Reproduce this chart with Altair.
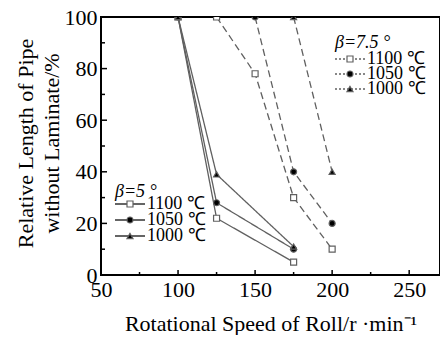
import altair as alt
import pandas as pd

# ---- data ----
speed_b5 = [100, 125, 175]
b5_1100 = [100, 22, 5]
b5_1050 = [100, 28, 10]
b5_1000 = [100, 39, 11]

speed_b75_1100 = [125, 150, 175, 200]
b75_1100 = [100, 78, 30, 10]
speed_b75_1050 = [150, 175, 200]
b75_1050 = [100, 40, 20]
speed_b75_1000 = [175, 200]
b75_1000 = [100, 40]

x_major = [50, 100, 150, 200, 250]
x_minor = [75, 125, 175, 225]
y_major = [0, 20, 40, 60, 80, 100]
y_minor = [10, 30, 50, 70, 90]

rows = []
def add(beta, temp, xs, ys):
    for x, y in zip(xs, ys):
        rows.append({"beta": beta, "temp": temp, "series": f"{beta}-{temp}", "speed": x, "len": y})

add("5", "1100", speed_b5, b5_1100)
add("5", "1050", speed_b5, b5_1050)
add("5", "1000", speed_b5, b5_1000)
add("7.5", "1100", speed_b75_1100, b75_1100)
add("7.5", "1050", speed_b75_1050, b75_1050)
add("7.5", "1000", speed_b75_1000, b75_1000)
df = pd.DataFrame(rows)

W, H = 339, 258
FONT = "Liberation Serif"
GRAY = "#606060"

xs = alt.Scale(domain=[50, 270], nice=False, zero=False)
ys = alt.Scale(domain=[0, 100], nice=False)

temps = ["1100", "1050", "1000"]
shape_scale = alt.Scale(domain=temps, range=["square", "circle", "triangle-up"])
fill_scale = alt.Scale(domain=temps, range=["white", "black", "black"])
dash_scale = alt.Scale(domain=["5", "7.5"], range=[[1, 0], [7, 4]])

base = alt.Chart(df)

lines = base.mark_line(color=GRAY, strokeWidth=1.3).encode(
    x=alt.X("speed:Q", scale=xs,
            axis=alt.Axis(values=x_major, ticks=False, domain=False, grid=False,
                          labelFont=FONT, labelFontSize=22, labelColor="black",
                          labelPadding=4, labelFlush=False,
                          title="Rotational Speed of Roll/r ·min⁻¹",
                          titleFont=FONT, titleFontSize=22, titleFontWeight="normal",
                          titleColor="black", titlePadding=13)),
    y=alt.Y("len:Q", scale=ys,
            axis=alt.Axis(values=y_major, ticks=False, domain=False, grid=False,
                          labelFont=FONT, labelFontSize=22, labelColor="black",
                          labelPadding=4, labelFlush=False,
                          title=["Relative Length of Pipe", "without Laminate/%"],
                          titleFont=FONT, titleFontSize=22, titleFontWeight="normal",
                          titleColor="black", titleLineHeight=26,
                          titleX=-64, titleY=126)),
    detail="series:N",
    strokeDash=alt.StrokeDash("beta:N", scale=dash_scale, legend=None),
)

points = base.mark_point(size=36, filled=False, strokeWidth=1.2, opacity=1, clip=True).encode(
    x=alt.X("speed:Q", scale=xs),
    y=alt.Y("len:Q", scale=ys),
    shape=alt.Shape("temp:N", scale=shape_scale, legend=None),
    fill=alt.Fill("temp:N", scale=fill_scale, legend=None),
    stroke=alt.value(GRAY),
)

# inward ticks
xt_major = alt.Chart(pd.DataFrame({"v": x_major})).mark_rule(color="black", strokeWidth=1.5).encode(
    x=alt.X("v:Q", scale=xs), y=alt.value(H), y2=alt.value(H - 5))
xt_minor = alt.Chart(pd.DataFrame({"v": x_minor})).mark_rule(color="black", strokeWidth=1.5).encode(
    x=alt.X("v:Q", scale=xs), y=alt.value(H), y2=alt.value(H - 3))
yt_major = alt.Chart(pd.DataFrame({"v": y_major})).mark_rule(color="black", strokeWidth=1.5).encode(
    y=alt.Y("v:Q", scale=ys), x=alt.value(0), x2=alt.value(6))
yt_minor = alt.Chart(pd.DataFrame({"v": y_minor})).mark_rule(color="black", strokeWidth=1.5).encode(
    y=alt.Y("v:Q", scale=ys), x=alt.value(0), x2=alt.value(4))

# manual legends
legend_layers = []
def legend(x0, y_title, y_items, dash, title, line_color):
    layers = []
    layers.append(alt.Chart(pd.DataFrame({"t": [title]})).mark_text(
        font=FONT, fontSize=18, fontStyle="italic", align="left", baseline="middle", color="black"
    ).encode(text="t:N", x=alt.value(x0), y=alt.value(y_title)))
    for t, yy in zip(temps, y_items):
        layers.append(alt.Chart(pd.DataFrame({"temp": [t]})).mark_rule(
            color=line_color, strokeWidth=1.3, strokeDash=dash
        ).encode(x=alt.value(x0), x2=alt.value(x0 + 30), y=alt.value(yy)))
        layers.append(alt.Chart(pd.DataFrame({"temp": [t]})).mark_point(
            size=36, filled=False, strokeWidth=1.2, opacity=1
        ).encode(x=alt.value(x0 + 15), y=alt.value(yy),
                 shape=alt.Shape("temp:N", scale=shape_scale, legend=None),
                 fill=alt.Fill("temp:N", scale=fill_scale, legend=None),
                 stroke=alt.value(GRAY)))
        layers.append(alt.Chart(pd.DataFrame({"t": [f"{t}  ℃"]})).mark_text(
            font=FONT, fontSize=18, align="left", baseline="middle", color="black"
        ).encode(text="t:N", x=alt.value(x0 + 32), y=alt.value(yy)))
    return layers

legend_layers += legend(14, 175, [187, 203, 219], [1, 0], "β=5 °", "#333333")
legend_layers += legend(234, 26, [42, 57, 72], [2, 2], "β=7.5 °", GRAY)

chart = alt.layer(lines, points, xt_major, xt_minor, yt_major, yt_minor, *legend_layers).properties(
    width=W, height=H,
    autosize=alt.AutoSizeParams(type="none"),
    padding={"left": 93, "top": 9, "right": 0, "bottom": 60},
).configure_view(stroke="black", strokeWidth=2).resolve_scale(shape="shared", fill="shared")

chart.save("out.html", embed_options={"renderer": "svg", "actions": False})
